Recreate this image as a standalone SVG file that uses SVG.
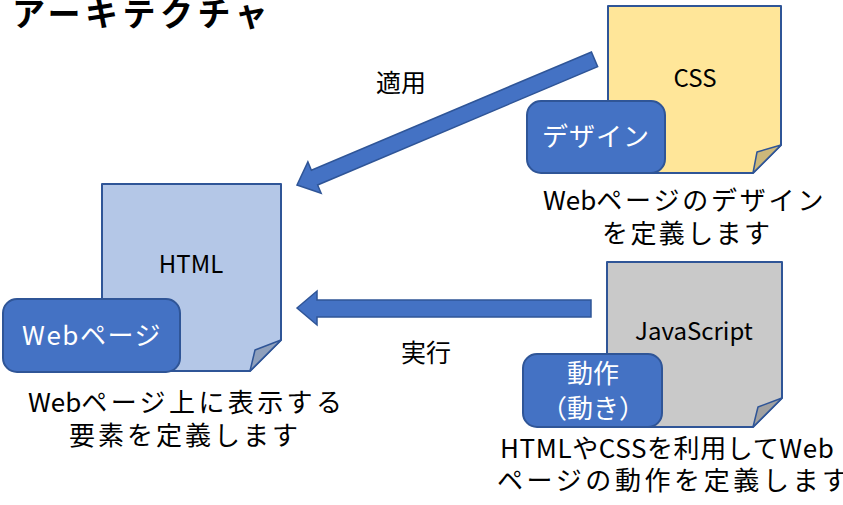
<svg xmlns="http://www.w3.org/2000/svg" width="843" height="505" viewBox="0 0 843 505">
<style>
text{font-family:"Noto Sans CJK JP","Noto Sans",sans-serif;fill:#000}
.doc{stroke:#2F5597;stroke-width:2;stroke-linejoin:round}
.fold{stroke:#2F5597;stroke-width:1.5;stroke-linejoin:round}
.tag{fill:#4472C4;stroke:#2F5597;stroke-width:2}
.tagt{fill:#fff;font-size:26px;text-anchor:middle}
.doct{font-size:24px;text-anchor:middle}
.lbl{font-size:25px;text-anchor:middle}
.desc{font-size:26px}
.arrow{fill:#4472C4;stroke:#2F5597;stroke-width:1.5;stroke-linejoin:miter}
</style>
<rect width="843" height="505" fill="#fff"/>
<text x="12" y="26" style="font-size:33px;font-weight:bold;letter-spacing:4.5px">アーキテクチャ</text>

<g id="connectors">
<polygon class="arrow" transform="translate(297,185) rotate(-22.9)" points="0,0 19,-17 19,-8 323,-8 323,8 19,8 19,17"/>
<polygon class="arrow" points="297,308 317,291 317,300 591,300 591,317 317,317 317,325"/>
<text class="lbl" x="401" y="92">適用</text>
<text class="lbl" x="426" y="362">実行</text>
</g>

<g id="html">
<path class="doc" fill="#B4C7E7" d="M102,184 H281 V340 L250,371 H102 Z"/>
<path class="fold" fill="#8FA0BC" d="M281,340 L255,350 L250,371 Z"/>
<text class="doct" x="191" y="273">HTML</text>
<rect class="tag" x="3" y="299" width="177" height="73" rx="14"/>
<text class="tagt" x="92" y="345" letter-spacing="1.5">Webページ</text>
<text class="desc" x="28" y="412">Web<tspan letter-spacing="3.4">ページ上に表示する</tspan></text>
<text class="desc" x="69" y="445" letter-spacing="3">要素を定義します</text>
</g>

<g id="css">
<path class="doc" fill="#FFE699" d="M608,6 H781 V145 L753,173 H608 Z"/>
<path class="fold" fill="#CCB87A" d="M781,145 L757,152 L753,173 Z"/>
<text class="doct" x="695" y="87">CSS</text>
<rect class="tag" x="527" y="101" width="138" height="72" rx="14"/>
<text class="tagt" x="596" y="146" letter-spacing="1">デザイン</text>
<text class="desc" x="543" y="210">Web<tspan letter-spacing="2.8">ページのデザイン</tspan></text>
<text class="desc" x="602" y="243" letter-spacing="2.4">を定義します</text>
</g>

<g id="javascript">
<path class="doc" fill="#C9C9C9" d="M607,262 H782 V398 L753,427 H607 Z"/>
<path class="fold" fill="#A1A1A1" d="M782,398 L758,407 L753,427 Z"/>
<text class="doct" x="694" y="340">JavaScript</text>
<rect class="tag" x="523" y="354" width="139" height="73" rx="14"/>
<text class="tagt" x="593" y="383">動作</text>
<text class="tagt" x="593" y="418">（動き）</text>
<text class="desc" x="500" y="458" letter-spacing="0.6">HTMLやCSSを利用してWeb</text>
<text class="desc" x="497" y="490" letter-spacing="3.6">ページの動作を定義します</text>
</g>
</svg>
